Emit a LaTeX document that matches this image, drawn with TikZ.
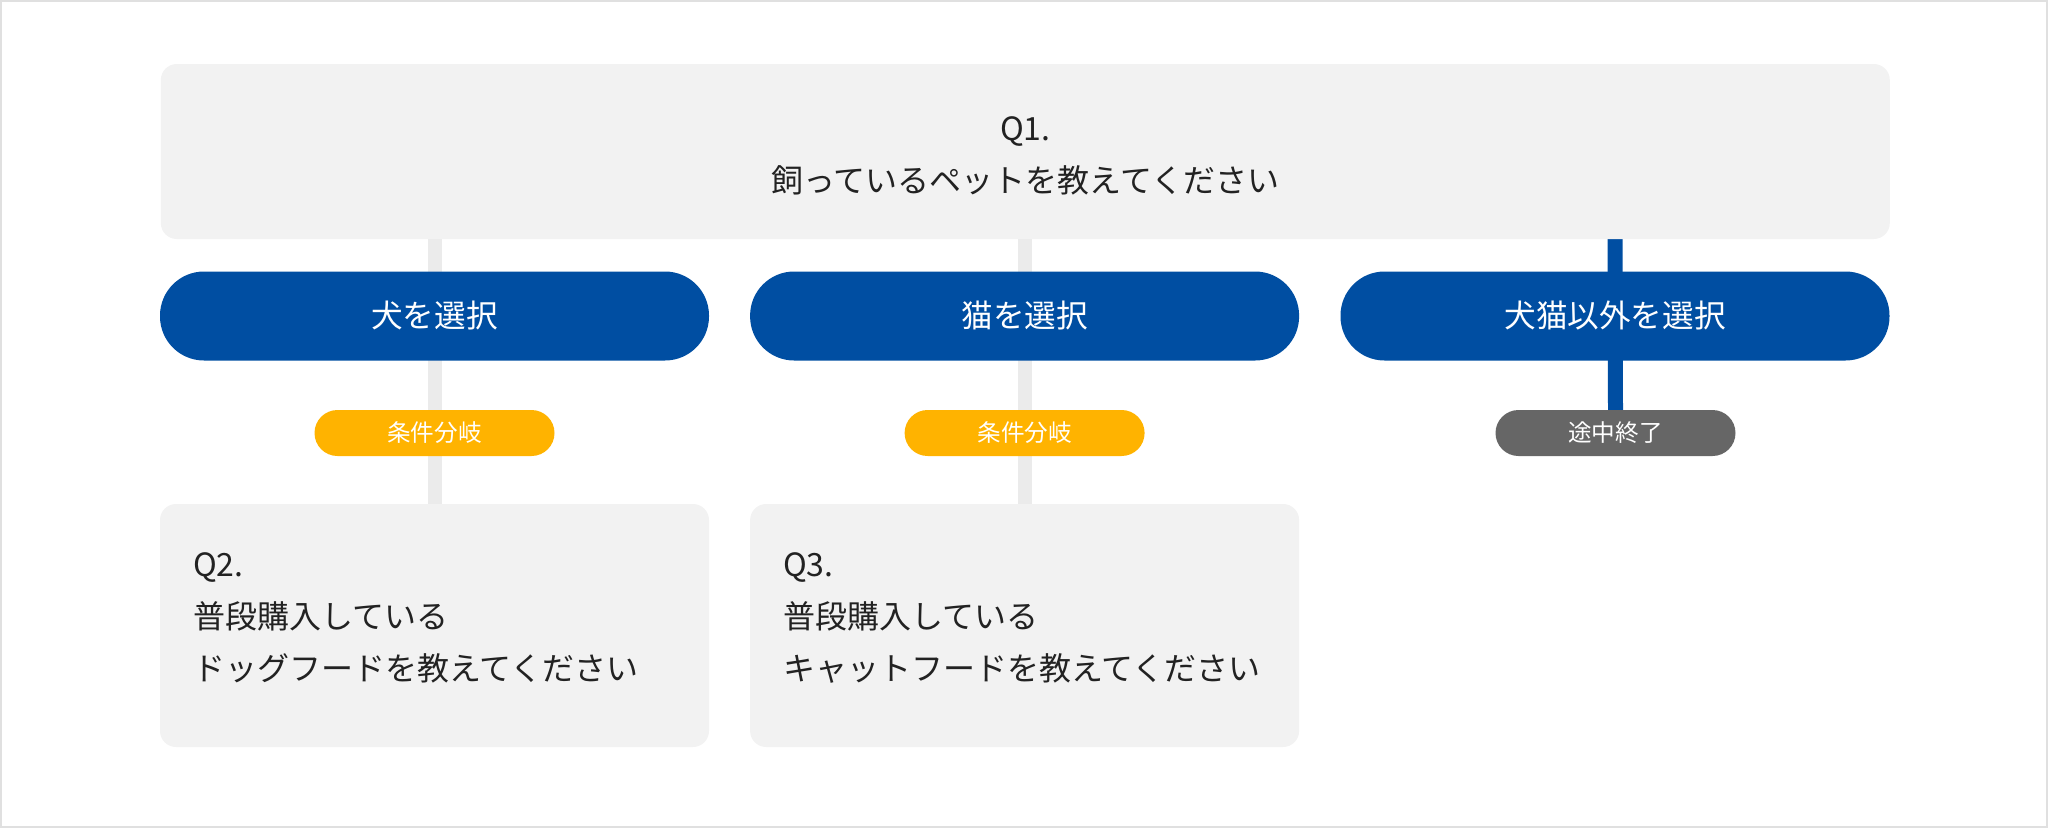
\documentclass[tikz,border=0pt]{standalone}
\usepackage{fontspec}
\setmainfont{Noto Sans CJK JP}
\usetikzlibrary{backgrounds}
\definecolor{qbox}{HTML}{F2F2F2}
\definecolor{selblue}{HTML}{004EA2}
\definecolor{condyel}{HTML}{FFB300}
\definecolor{endgray}{HTML}{666666}
\definecolor{linegray}{HTML}{EBEBEB}
\definecolor{txt}{HTML}{222222}
\definecolor{framegray}{HTML}{E0E0E0}
\begin{document}
\begin{tikzpicture}[x=1pt,y=-1pt,
  qstyle/.style={fill=qbox, rounded corners=16pt, draw=none, text=txt, font=\fontsize{32}{52}\selectfont, inner sep=0pt},
  choice/.style={fill=selblue, rounded corners=44pt, minimum width=549pt, minimum height=89pt, text=white, font=\fontsize{31.6}{38}\selectfont, inner sep=0pt},
  tag/.style={rounded corners=23pt, minimum width=240pt, minimum height=46pt, text=white, font=\fontsize{23.6}{28}\selectfont, inner sep=0pt},
  conn/.style={line width=14pt, draw=linegray},
  connend/.style={line width=15pt, draw=selblue}]
\useasboundingbox (0,0) rectangle (2048,828);
\draw[framegray, line width=2pt] (1,1) rectangle (2047,827);

\node[qstyle, minimum width=1729pt, minimum height=175pt, align=center] (q1) at (1025.3,151.5) {\rule{0pt}{32pt}Q1.\\飼っているペットを教えてください};

\node[choice] (dog) at (434.5,316) {犬を選択};
\node[choice] (cat) at (1024.6,316) {猫を選択};
\node[choice] (other) at (1615,316) {犬猫以外を選択};

\node[tag, fill=condyel] (cdog) at (434.5,433) {条件分岐};
\node[tag, fill=condyel] (ccat) at (1024.6,433) {条件分岐};
\node[tag, fill=endgray] (stop) at (1615.5,433) {途中終了};

\node[qstyle, minimum width=549pt, minimum height=243pt, text width=483pt, align=left, inner xsep=33pt] (q2) at (434.5,625.5) {Q2.\\普段購入している\\ドッグフードを教えてください\rule[-17pt]{0pt}{0pt}};
\node[qstyle, minimum width=549pt, minimum height=243pt, text width=483pt, align=left, inner xsep=33pt] (q3) at (1024.6,625.5) {Q3.\\普段購入している\\キャットフードを教えてください\rule[-17pt]{0pt}{0pt}};

\begin{scope}[on background layer]
\draw[conn] (q1.south -| dog.center) -- (q2.north -| dog.center);
\draw[conn] (q1.south -| cat.center) -- (q3.north -| cat.center);
\draw[connend] (q1.south -| other.center) -- (stop.north);
\end{scope}
\end{tikzpicture}
\end{document}
